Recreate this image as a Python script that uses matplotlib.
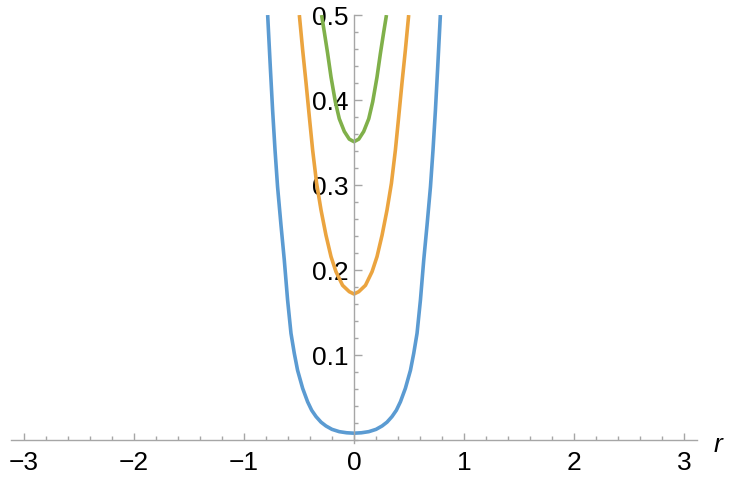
"""
Three potential curves V(r) in Mathematica-like style (axes crossing at origin).
Values read off the reference picture.
"""
import matplotlib
matplotlib.use('Agg')
import matplotlib.pyplot as plt
from matplotlib.ticker import MultipleLocator, FixedLocator

plt.rcParams['font.family'] = ['Liberation Sans', 'DejaVu Sans']

r_blue_half = [0.0, 0.067, 0.134, 0.2, 0.255, 0.3, 0.345, 0.385, 0.422, 0.467, 0.513,
               0.543, 0.573, 0.604, 0.634, 0.664, 0.695, 0.718, 0.74, 0.761, 0.785]
v_blue_half = [0.008, 0.0085, 0.0098, 0.0125, 0.0165, 0.021, 0.0275, 0.035, 0.045, 0.0608,
               0.082, 0.102, 0.1255, 0.165, 0.212, 0.253, 0.298, 0.341, 0.388, 0.439, 0.5]

# orange curve (middle)
r_orange_half = [0.0, 0.043, 0.104, 0.164, 0.209, 0.255, 0.3, 0.34, 0.376,
                 0.406, 0.436, 0.467, 0.497]
v_orange_half = [0.1718, 0.1745, 0.182, 0.198, 0.2157, 0.241, 0.2706, 0.302, 0.341,
                 0.38, 0.42, 0.459, 0.5]

# green curve (highest)
r_green_half = [0.0, 0.043, 0.088, 0.134, 0.17, 0.209, 0.24, 0.27, 0.295]
v_green_half = [0.351, 0.354, 0.363, 0.378, 0.398, 0.427, 0.455, 0.48, 0.5]

x_ticks = [-3, -2, -1, 0, 1, 2, 3]
y_ticks = [0.1, 0.2, 0.3, 0.4, 0.5]


def full(r_half, v_half):
    # curves are symmetric in r
    r = [-x for x in r_half[:0:-1]] + r_half
    v = v_half[:0:-1] + v_half
    return r, v


fig = plt.figure(figsize=(7.42, 4.84), dpi=100)
ax = fig.add_axes([0.01456, 0.0839, 0.9251, 0.885])

lw = 2.6
for rh, vh, col in [(r_blue_half, v_blue_half, '#5B9BD2'),
                    (r_orange_half, v_orange_half, '#EBA43F'),
                    (r_green_half, v_green_half, '#80B04A')]:
    r, v = full(rh, vh)
    ax.plot(r, v, color=col, lw=lw, solid_capstyle='butt', solid_joinstyle='round')

ax.set_xlim(-3.12, 3.12)
ax.set_ylim(-0.004, 0.5)

# axes through the origin
for side in ['top', 'right']:
    ax.spines[side].set_visible(False)
ax.spines['left'].set_position(('data', 0))
ax.spines['bottom'].set_position(('data', 0))
for side in ['left', 'bottom']:
    ax.spines[side].set_color('#a6a6a6')
    ax.spines[side].set_linewidth(1.0)

ax.xaxis.set_major_locator(FixedLocator(x_ticks))
ax.xaxis.set_minor_locator(MultipleLocator(0.2))
ax.yaxis.set_major_locator(FixedLocator(y_ticks))
ax.yaxis.set_minor_locator(MultipleLocator(0.02))
ax.set_xticklabels([f'{t:d}'.replace('-', '\u2212') for t in x_ticks])
ax.set_yticklabels([f'{t:.1f}' for t in y_ticks])

ax.tick_params(which='both', direction='in', color='#a6a6a6', width=1.0,
               labelsize=19, labelcolor='black')
ax.tick_params(which='major', length=5.4)
ax.tick_params(which='minor', length=2.9)
ax.tick_params(axis='x', which='major', pad=8)
ax.tick_params(axis='y', which='major', pad=4)

ax.text(3.31, -0.006, 'r', fontsize=19, style='italic', ha='center', va='center',
        clip_on=False)

fig.savefig('out.png', dpi=100)
